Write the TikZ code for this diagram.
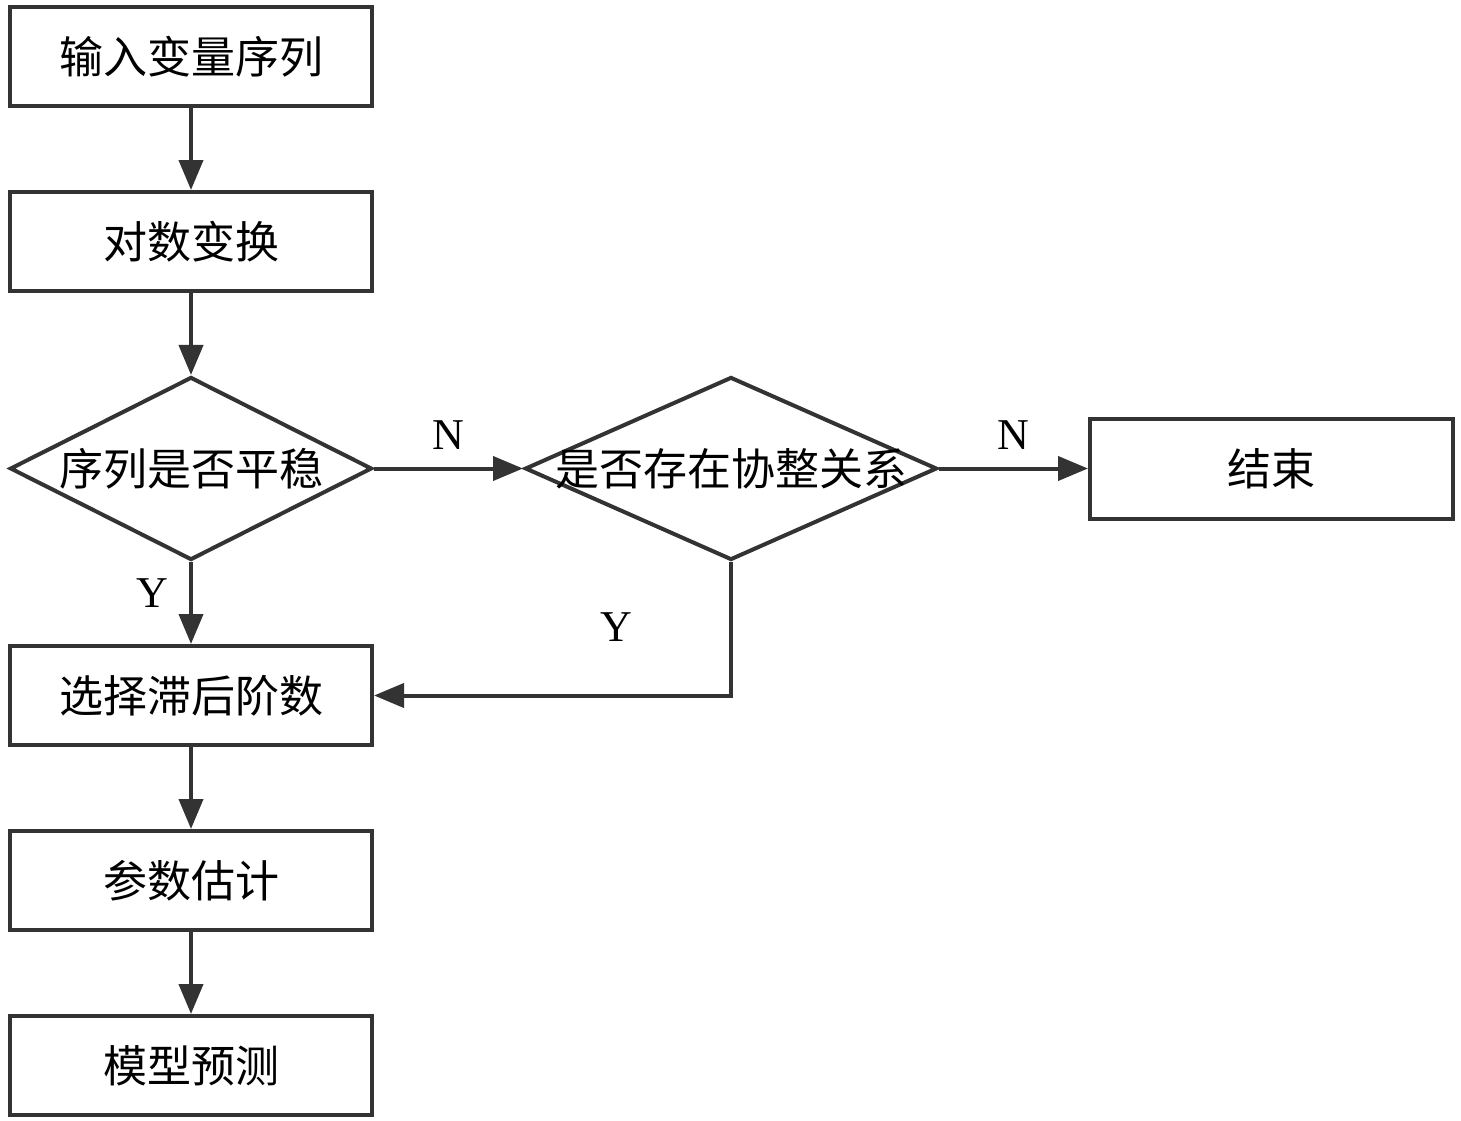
\documentclass[tikz,border=0pt]{standalone}
\usepackage{fontspec}
\setmainfont{Liberation Serif}
\newfontfamily\cjk{Noto Sans CJK SC}
\usepackage{xcolor}
\usepackage{tikz}
\usetikzlibrary{positioning,calc,shapes.geometric,arrows.meta}
\definecolor{LineGray}{RGB}{51,51,51}
\tikzset{
    cjkfont/.style={font=\cjk\fontsize{44pt}{50pt}\selectfont},
    yn/.style={font=\fontsize{44pt}{50pt}\selectfont, inner sep=0pt}
}

\begin{document}
\begin{tikzpicture}[
        x=1pt, y=-1pt,
        % --- STYLE ---
        % Hộp xử lý
        procbox/.style={
            rectangle,
            draw=LineGray,
            line width=4pt,
            minimum width=362pt,
            minimum height=99pt,
            inner sep=0pt,
            cjkfont
        },
        % Hình thoi quyết định
        decision/.style={
            diamond,
            draw=LineGray,
            line width=4pt,
            minimum height=183pt,
            inner sep=0pt
        },
        % Mũi tên
        flowline/.style={
            draw=LineGray,
            line width=4pt,
            -{Triangle[length=30pt,width=24pt]}
        }
    ]
        \useasboundingbox (0,0) rectangle (1461,1121);

        % --- CỘT TRÁI ---
        \node[procbox] (input) at (191,56.5) {输入变量序列};
        \node[procbox, below=82pt of input] (logt) {对数变换};
        \node[decision, minimum width=362pt, below=82pt of logt,
            label={[cjkfont]center:序列是否平稳}] (stat) {};
        \node[procbox, below=82pt of stat] (lag) {选择滞后阶数};
        \node[procbox, below=82pt of lag] (est) {参数估计};
        \node[procbox, below=82pt of est] (pred) {模型预测};

        % --- HÀNG GIỮA ---
        \node[decision, minimum width=412pt, right=149pt of stat,
            label={[cjkfont]center:是否存在协整关系}] (coint) {};
        \node[procbox, minimum width=363pt, minimum height=100pt, right=149pt of coint] (stop) {结束};

        % --- MŨI TÊN ---
        \draw[flowline] (input) -- (logt);
        \draw[flowline] (logt) -- (stat);
        \draw[flowline] (stat) -- (lag);
        \draw[flowline] (lag) -- (est);
        \draw[flowline] (est) -- (pred);
        \draw[flowline] (stat) -- (coint);
        \draw[flowline] (coint) -- (stop);
        \draw[flowline] (coint.south) |- (lag.east);

        % --- NHÃN Y / N ---
        \node[yn] (n1) at ($(stat.east)!0.5!(coint.west)+(0,-33)$) {N};
        \node[yn] (n2) at ($(coint.east)!0.5!(stop.west)+(0,-33)$) {N};
        \node[yn] (y1) at ($(stat.south)+(-39,31)$) {Y};
        \node[yn] (y2) at ($(coint.south |- lag.east)+(-115,-68)$) {Y};

    \end{tikzpicture}
\end{document}
